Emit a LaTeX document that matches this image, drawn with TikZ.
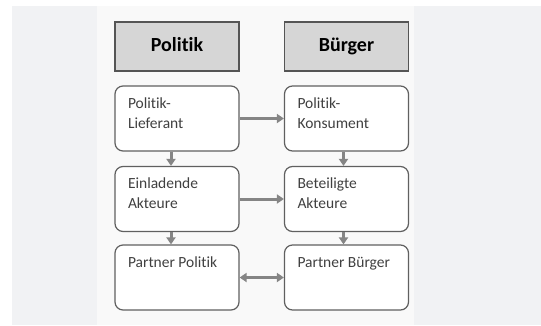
\documentclass[tikz,border=0pt]{standalone}
\usepackage{fontspec}
\setmainfont[Ligatures={NoCommon}]{Carlito}
\usepackage{tikz}
\usetikzlibrary{arrows.meta}
\usetikzlibrary{positioning}
\definecolor{bggray}{HTML}{F1F2F4}
\definecolor{panel}{HTML}{F9F9F9}
\definecolor{headfill}{HTML}{D6D6D6}
\definecolor{headline}{HTML}{555555}
\definecolor{boxline}{HTML}{606060}
\definecolor{pfeil}{HTML}{858585}
\newcommand{\boxtext}[1]{\parbox[c][45pt][t]{98pt}{\vphantom{Ül}#1}}
\tikzset{
    kopf/.style={
        draw=headline,
        line width=1.6pt,
        fill=headfill,
        minimum width=124pt,
        minimum height=49pt,
        inner sep=0pt,
        text height=14pt,
        text depth=4pt,
        font=\fontsize{20}{24}\selectfont\bfseries
    },
    kasten/.style={
        draw=boxline,
        line width=1.2pt,
        fill=white,
        rounded corners=8pt,
        inner xsep=13pt,
        inner ysep=10pt,
        font=\fontsize{15.5}{20}\selectfont,
        text=black!75
    },
    fluss/.style={
        draw=pfeil,
        line width=3pt,
        -{Triangle[length=7pt, width=9pt]}
    }
}

\begin{document}
\begin{tikzpicture}[x=1pt, y=-1pt]
    % Background
    \useasboundingbox (0,0) rectangle (541,325);
    \fill[bggray] (12,6) rectangle (541,325);
    \fill[panel] (97,6) rectangle (414,325);

    % Headers
    \node[kopf] (politik) at (177,46.5) {Politik};
    \node[kopf] (buerger) at (346.5,46.5) {Bürger};

    % Boxes
    \node[kasten] (lieferant) at (177,118.5) {\boxtext{Politik-\\Lieferant}};
    \node[kasten] (einladend) at (177,199) {\boxtext{Einladende\\Akteure}};
    \node[kasten] (ppolitik) at (177,277.5) {\boxtext{Partner Politik}};
    \node[kasten] (konsument) at (346.5,118.5) {\boxtext{Politik-\\Konsument}};
    \node[kasten] (beteiligt) at (346.5,199) {\boxtext{Beteiligte\\Akteure}};
    \node[kasten] (pbuerger) at (346.5,277.5) {\boxtext{Partner Bürger}};

    % Arrows
    \draw[fluss] (lieferant) -- (konsument);
    \draw[fluss] (einladend) -- (beteiligt);
    \draw[fluss, {Triangle[length=7pt, width=9pt]}-{Triangle[length=7pt, width=9pt]}] (ppolitik) -- (pbuerger);
    \draw[fluss] ([xshift=-6pt]lieferant.south) -- ([xshift=-6pt]einladend.north);
    \draw[fluss] ([xshift=-6pt]einladend.south) -- ([xshift=-6pt]ppolitik.north);
    \draw[fluss] ([xshift=-3pt]konsument.south) -- ([xshift=-3pt]beteiligt.north);
    \draw[fluss] ([xshift=-3pt]beteiligt.south) -- ([xshift=-3pt]pbuerger.north);
\end{tikzpicture}
\end{document}
